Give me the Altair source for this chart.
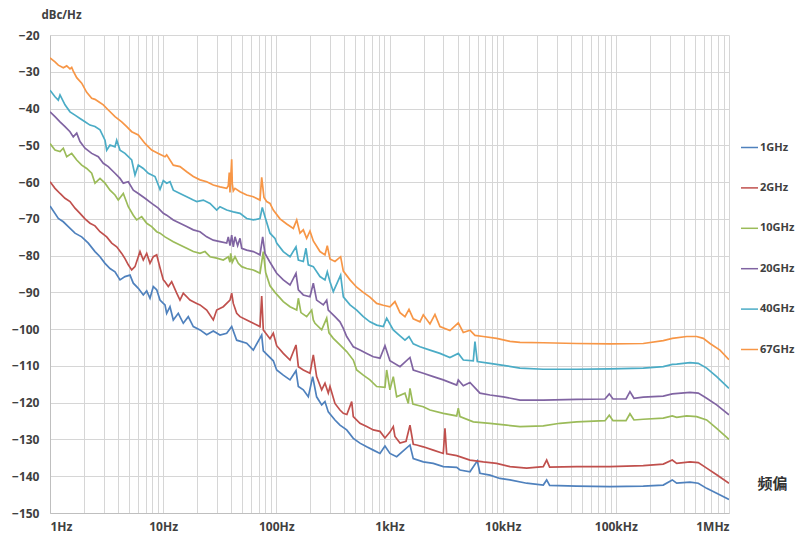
import altair as alt
import pandas as pd

SERIES = ["1GHz", "2GHz", "10GHz", "20GHz", "40GHz", "67GHz"]
COLORS = ["#4F81BD", "#C0504D", "#9BBB59", "#8064A2", "#4BACC6", "#F79646"]

# (offset frequency in Hz, phase noise in dBc/Hz)
S_1GHZ = [
    (1.0, -66.5), (1.184, -69.9), (1.311, -70.8), (1.451, -72.1), (1.663, -73.9), (1.906, -74.9),
    (2.18, -76.6), (2.498, -78.9), (2.766, -80.3), (3.062, -82.1), (3.39, -83.5), (3.752, -84.4),
    (4.155, -86.6), (4.599, -85.7), (5.092, -85.3), (5.445, -87.5), (6.029, -88.9), (6.674, -90.7),
    (7.152, -89.6), (7.649, -91.6), (8.181, -88.4), (8.767, -89.3), (9.376, -92.1), (10.03, -93.0),
    (10.38, -93.4), (10.74, -95.7), (11.49, -93.9), (12.29, -97.5), (13.6, -95.7), (15.06, -98.4),
    (16.67, -96.6), (18.46, -99.3), (21.16, -100.2), (24.25, -101.5), (27.73, -100.5), (31.78, -101.6),
    (36.42, -101.1), (40.32, -99.3), (44.64, -103.0), (54.70, -103.8), (62.57, -105.7), (74.24, -101.6),
    (76.69, -105.9), (94.0, -108.6), (100.7, -111.1), (115.2, -112.5), (132.1, -113.8), (149.2, -111.3),
    (156.5, -115.6), (173.1, -116.5), (191.6, -118.4), (209.5, -112.9), (227.0, -118.4), (251.6, -120.6),
    (269.0, -119.7), (287.7, -122.5), (329.6, -124.7), (365.0, -126.1), (418.5, -127.4), (478.6, -129.7),
    (548.0, -131.0), (628.6, -132.0), (719.3, -132.9), (824.0, -133.8), (912.0, -131.8), (1009, -133.8),
    (1157, -134.7), (1517, -131.5), (1622, -135.2), (1988, -136.1), (2437, -136.5), (2987, -137.4),
    (3925, -137.6), (4197, -138.3), (5140, -138.8), (5970, -135.8), (6300, -139.2), (7720, -139.7),
    (9460, -140.6), (11600, -141.0), (16290, -141.9), (22850, -142.4), (24480, -141.0), (26000, -142.5),
    (45060, -142.7), (88700, -142.8), (174700, -142.7), (262400, -142.4), (315200, -141.0),
    (345000, -141.9), (452000, -141.6), (535100, -141.9), (634900, -143.3), (778000, -144.6),
    (1000000, -146.3),
]

S_2GHZ = [
    (1.0, -59.9), (1.107, -61.7), (1.226, -63.1), (1.357, -64.4), (1.502, -65.3), (1.663, -67.1),
    (1.841, -68.5), (2.038, -70.0), (2.256, -71.2), (2.498, -71.9), (2.766, -73.5), (3.17, -74.9),
    (3.51, -76.6), (3.885, -77.6), (4.301, -79.4), (4.599, -80.8), (4.919, -82.5), (5.271, -83.9),
    (5.637, -83.0), (6.241, -78.9), (6.674, -81.2), (7.152, -79.4), (7.649, -82.1), (8.181, -80.3),
    (8.767, -79.8), (9.376, -83.3), (10.03, -86.6), (10.38, -87.1), (11.1, -88.4), (11.89, -87.1),
    (13.17, -90.2), (14.08, -92.1), (15.06, -90.2), (17.26, -92.1), (19.78, -93.0), (21.16, -93.4),
    (24.25, -94.8), (27.73, -97.5), (29.72, -94.8), (33.99, -93.9), (38.95, -92.1), (40.32, -90.2),
    (41.66, -93.0), (44.64, -95.7), (47.75, -96.6), (54.70, -97.5), (62.57, -98.4), (71.72, -99.3),
    (74.24, -91.0), (76.69, -100.2), (87.89, -102.6), (94.0, -101.1), (100.7, -104.5), (115.2, -106.6),
    (132.1, -108.4), (149.2, -104.3), (156.5, -110.2), (173.1, -111.1), (198.3, -112.0), (212.2, -107.0),
    (227.0, -112.9), (251.6, -116.5), (269.0, -114.7), (287.7, -117.4), (298.0, -115.6), (329.6, -120.2),
    (365.0, -122.0), (390.8, -122.9), (420.0, -123.2), (463.5, -119.7), (478.6, -123.8), (548.0, -125.6),
    (628.6, -126.5), (719.3, -127.4), (824.0, -127.8), (912.0, -129.6), (1009, -128.0), (1080, -126.5),
    (1117, -129.2), (1238, -131.0), (1400, -130.5), (1517, -126.1), (1622, -131.3), (1738, -131.5),
    (1988, -132.0), (2437, -132.9), (2987, -133.8), (3091, -127.0), (3200, -133.9), (3925, -134.4),
    (5140, -135.6), (6740, -136.1), (8850, -136.5), (11600, -137.4), (16290, -137.8), (22850, -137.4),
    (24480, -135.6), (26000, -137.5), (45060, -137.4), (88700, -137.4), (174700, -137.1),
    (262400, -136.7), (315200, -135.6), (345000, -136.5), (452000, -136.1), (535100, -136.3),
    (634900, -137.8), (778000, -139.6), (1000000, -141.9),
]

S_10GHZ = [
    (1.0, -49.5), (1.107, -51.3), (1.226, -51.7), (1.311, -50.8), (1.405, -53.1), (1.555, -52.2),
    (1.722, -54.0), (1.906, -55.4), (2.11, -56.3), (2.336, -57.6), (2.498, -60.3), (2.766, -59.0),
    (3.062, -60.3), (3.39, -62.2), (3.752, -63.5), (4.013, -64.9), (4.443, -63.1), (4.919, -66.7),
    (5.445, -69.0), (5.835, -70.3), (6.461, -69.4), (7.152, -71.2), (7.917, -72.1), (8.767, -73.5),
    (9.376, -73.9), (10.38, -74.9), (12.29, -76.2), (14.08, -77.1), (16.14, -78.0), (18.46, -78.9),
    (21.16, -79.4), (23.42, -78.9), (25.94, -80.3), (29.72, -80.7), (33.99, -81.2), (37.62, -80.3),
    (38.95, -81.8), (39.51, -79.4), (40.81, -81.8), (43.12, -80.3), (46.12, -82.1), (49.43, -83.0),
    (54.70, -83.5), (62.57, -83.9), (71.72, -84.8), (76.69, -78.9), (80.5, -84.6), (87.89, -88.2),
    (97.3, -90.0), (115.2, -92.5), (132.1, -93.9), (151.4, -94.8), (156.5, -91.6), (165.0, -95.5),
    (185.4, -96.6), (205.3, -94.8), (212.2, -97.5), (219.6, -98.4), (251.6, -100.2), (278.6, -97.0),
    (292.0, -101.0), (318.7, -102.5), (365.0, -104.3), (418.5, -106.1), (478.6, -108.4), (512.9, -111.1),
    (586.6, -112.5), (671.6, -113.8), (770.4, -115.6), (912.0, -115.8), (944.0, -111.1), (1009, -116.5),
    (1080, -112.9), (1157, -118.4), (1370, -117.4), (1466, -120.2), (1517, -116.1), (1610, -120.4),
    (1988, -121.1), (2278, -122.0), (2987, -122.9), (3925, -123.6), (4055, -121.5), (4197, -123.8),
    (5500, -125.2), (7720, -125.6), (10840, -126.1), (14220, -126.5), (22850, -126.3), (32080, -125.6),
    (45060, -125.2), (80200, -124.9), (87500, -123.4), (94400, -124.9), (123000, -124.9),
    (133300, -123.0), (144600, -124.7), (174700, -124.5), (262400, -124.2), (315200, -123.6),
    (345000, -124.0), (422700, -123.6), (517800, -123.8), (634900, -124.7), (778000, -127.0),
    (1000000, -130.0),
]

S_20GHZ = [
    (1.0, -40.9), (1.107, -42.2), (1.226, -43.6), (1.357, -44.9), (1.502, -46.3), (1.606, -47.7),
    (1.722, -46.7), (1.841, -49.0), (2.038, -50.8), (2.336, -52.2), (2.672, -53.1), (2.958, -54.9),
    (3.274, -55.8), (3.752, -57.6), (4.155, -59.0), (4.443, -60.3), (4.919, -59.9), (5.445, -62.2),
    (6.029, -63.1), (6.909, -64.4), (7.917, -65.8), (9.057, -67.1), (10.03, -68.5), (10.74, -69.0),
    (12.29, -70.3), (14.08, -71.2), (16.14, -72.1), (18.46, -73.0), (21.16, -73.5), (24.25, -74.9),
    (27.73, -75.8), (31.78, -76.2), (36.42, -76.6), (37.62, -74.9), (38.95, -77.3), (40.32, -74.4),
    (41.66, -77.6), (43.12, -74.9), (45.5, -77.3), (47.75, -75.3), (49.43, -78.0), (54.70, -78.5),
    (62.57, -78.9), (71.72, -79.8), (75.76, -74.9), (79.38, -79.4), (87.89, -81.8), (100.7, -84.8),
    (115.2, -86.6), (132.1, -88.0), (149.2, -84.8), (156.5, -89.3), (173.1, -90.7), (198.3, -91.2),
    (212.2, -87.5), (227.0, -92.1), (260.0, -93.4), (278.6, -92.1), (287.7, -94.8), (329.6, -96.6),
    (365.0, -98.0), (390.8, -99.8), (418.5, -102.0), (447.7, -103.4), (478.6, -104.8), (548.0, -105.7),
    (628.6, -106.6), (719.3, -107.5), (824.0, -107.9), (912.0, -104.5), (1009, -108.6), (1238, -110.2),
    (1517, -107.7), (1622, -111.1), (1988, -112.0), (2437, -112.9), (2987, -113.8), (3925, -115.2),
    (4055, -113.8), (4488, -115.4), (5140, -114.5), (6300, -117.4), (7720, -117.9), (10120, -118.4),
    (14220, -119.3), (22850, -119.3), (45060, -119.1), (80200, -119.0), (87500, -117.6),
    (94400, -119.0), (123000, -119.0), (133300, -117.0), (144600, -118.8), (174700, -118.5),
    (262400, -118.2), (315200, -117.6), (452000, -117.2), (535100, -117.4), (634900, -118.8),
    (778000, -120.6), (1000000, -123.3),
]

S_40GHZ = [
    (1.0, -35.0), (1.107, -36.8), (1.184, -37.7), (1.226, -36.3), (1.357, -39.0), (1.502, -40.9),
    (1.663, -41.8), (1.841, -42.7), (2.038, -43.6), (2.256, -44.5), (2.498, -44.9), (2.766, -45.8),
    (3.062, -48.6), (3.17, -51.3), (3.39, -49.9), (3.752, -50.4), (3.885, -48.6), (4.155, -51.3),
    (4.599, -52.2), (5.271, -54.0), (5.637, -58.1), (6.029, -55.4), (6.674, -56.3), (7.389, -57.6),
    (8.469, -58.5), (9.376, -62.0), (10.03, -59.6), (10.74, -60.3), (11.49, -59.9), (12.29, -62.2),
    (14.08, -63.1), (16.14, -64.0), (18.46, -64.9), (19.78, -65.3), (22.62, -64.9), (25.94, -65.8),
    (29.72, -67.6), (31.78, -66.7), (36.42, -67.6), (41.66, -68.1), (47.75, -68.5), (54.70, -69.9),
    (62.57, -70.3), (71.72, -69.9), (75.15, -66.9), (79.38, -69.4), (87.89, -73.9), (97.3, -75.3),
    (100.7, -76.6), (115.2, -78.9), (132.1, -80.3), (149.2, -77.6), (156.5, -81.2), (173.1, -81.6),
    (182.9, -78.0), (191.6, -82.5), (212.2, -83.0), (243.0, -85.7), (269.0, -86.6), (282.0, -84.4),
    (298.0, -87.1), (318.7, -89.8), (370.0, -85.3), (390.8, -91.2), (447.7, -93.4), (512.9, -94.8),
    (586.6, -96.6), (671.6, -98.0), (770.4, -98.9), (881.0, -99.3), (944.0, -97.0), (1080, -100.2),
    (1238, -101.8), (1370, -103.0), (1487, -102.0), (1622, -104.0), (1859, -104.8), (2278, -105.7),
    (2792, -106.6), (3420, -107.7), (4055, -106.6), (4488, -108.4), (5500, -108.6), (5690, -103.4),
    (5970, -108.8), (7720, -109.3), (9460, -109.7), (14220, -110.6), (22850, -110.9), (45060, -110.9),
    (88700, -110.8), (174700, -110.6), (262400, -110.2), (315200, -109.6), (345000, -109.5),
    (452000, -109.1), (535100, -109.3), (634900, -110.6), (778000, -112.9), (1000000, -116.1),
]

S_67GHZ = [
    (1.0, -26.2), (1.107, -27.3), (1.184, -28.2), (1.311, -28.9), (1.405, -28.4), (1.502, -29.2),
    (1.555, -28.8), (1.606, -29.8), (1.722, -31.6), (1.906, -33.1), (2.11, -35.6), (2.336, -37.2),
    (2.498, -37.5), (2.672, -38.1), (2.958, -39.0), (3.274, -40.4), (3.752, -42.2), (4.301, -43.6),
    (4.762, -44.9), (5.271, -46.3), (6.029, -47.2), (6.909, -49.5), (7.917, -51.3), (9.057, -52.2),
    (10.38, -53.1), (10.74, -52.6), (12.29, -55.4), (14.08, -55.8), (16.14, -57.2), (18.46, -58.5),
    (21.16, -59.4), (24.25, -59.9), (27.73, -60.8), (31.78, -61.3), (36.42, -61.7), (37.62, -61.0),
    (38.39, -57.4), (38.95, -62.8), (40.32, -53.8), (40.81, -60.5), (41.66, -62.4), (43.12, -61.7),
    (47.75, -62.6), (54.70, -63.5), (62.57, -64.0), (71.72, -64.9), (74.24, -58.7), (77.79, -64.2),
    (82.18, -65.3), (87.89, -65.8), (94.0, -67.6), (107.7, -70.0), (123.5, -71.4), (141.3, -72.6),
    (151.4, -70.3), (161.8, -73.9), (173.1, -73.0), (185.4, -75.3), (198.3, -73.3), (212.2, -76.0),
    (243.0, -78.9), (269.0, -79.8), (282.0, -77.3), (298.0, -80.9), (329.6, -81.6), (370.0, -80.3),
    (390.8, -84.2), (447.7, -86.6), (512.9, -88.6), (586.6, -90.0), (671.6, -91.3), (770.4, -93.0),
    (881.0, -93.5), (1009, -93.9), (1117, -92.5), (1238, -95.5), (1370, -96.6), (1487, -94.6),
    (1622, -97.2), (1859, -98.0), (1988, -96.1), (2278, -98.6), (2522, -96.0), (2792, -99.3),
    (3420, -100.4), (4055, -98.3), (4488, -100.9), (5140, -100.3), (5690, -101.7), (6740, -102.0),
    (8850, -102.5), (11600, -103.3), (14220, -103.6), (22850, -103.7), (45060, -103.9),
    (88700, -104.0), (174700, -103.9), (262400, -103.1), (315200, -102.5), (422700, -102.0),
    (517800, -102.0), (592400, -102.5), (679200, -103.9), (832000, -105.7), (1000000, -108.3),
]

DECADES = [1, 10, 100, 1000, 10000, 100000, 1000000]
DECADE_LABELS = ["1Hz", "10Hz", "100Hz", "1kHz", "10kHz", "100kHz", "1MHz"]
Y_TICKS = list(range(-150, -10, 10))

rows = []
for name, pts in zip(SERIES, [S_1GHZ, S_2GHZ, S_10GHZ, S_20GHZ, S_40GHZ, S_67GHZ]):
    for f, d in pts:
        rows.append({"series": name, "freq": f, "db": d})
df = pd.DataFrame(rows)

x_grid = [m * d for d in DECADES[:-1] for m in range(1, 10)] + [DECADES[-1]]
label_expr = " : ".join(
    f"datum.value == {v} ? '{lab}'" for v, lab in zip(DECADES, DECADE_LABELS)
) + " : ''"

FONT = "Noto Sans"
TXT = "#404040"

chart = (
    alt.Chart(df)
    .mark_line(strokeWidth=1.7, clip=True)
    .encode(
        x=alt.X(
            "freq:Q",
            scale=alt.Scale(type="log", domain=[1, 1000000], nice=False),
            axis=alt.Axis(
                values=x_grid,
                labelExpr=label_expr,
                labelOverlap=False,
                ticks=False,
                labelPadding=8,
                labelFont=FONT,
                labelFontSize=12,
                labelFontWeight="bold",
                labelColor=TXT,
                title="频偏",
                titleFont="Noto Sans CJK SC",
                titleFontSize=15,
                titleFontWeight="bold",
                titleColor="#333333",
                titleAngle=0,
                titleAlign="left",
                titleBaseline="middle",
                titleX=707,
                titleY=-30,
            ),
        ),
        y=alt.Y(
            "db:Q",
            scale=alt.Scale(domain=[-150, -20], nice=False, zero=False),
            axis=alt.Axis(
                values=Y_TICKS,
                ticks=False,
                labelPadding=11,
                labelFont=FONT,
                labelFontSize=12,
                labelFontWeight="bold",
                labelColor=TXT,
                title="dBc/Hz",
                titleFont=FONT,
                titleFontSize=11.5,
                titleFontWeight="bold",
                titleColor=TXT,
                titleAngle=0,
                titleAlign="left",
                titleBaseline="middle",
                titleX=-9,
                titleY=-20,
            ),
        ),
        color=alt.Color(
            "series:N",
            sort=SERIES,
            scale=alt.Scale(domain=SERIES, range=COLORS),
            legend=alt.Legend(
                orient="none",
                legendX=690,
                legendY=103,
                title=None,
                symbolType="stroke",
                symbolSize=290,
                symbolStrokeWidth=1.5,
                rowPadding=25.4,
                labelFont=FONT,
                labelFontSize=11,
                labelFontWeight="bold",
                labelColor=TXT,
                labelOffset=1,
            ),
        ),
    )
    .properties(
        width=679,
        height=478,
        autosize=alt.AutoSizeParams(type="none"),
        padding={"left": 42, "top": 27, "right": 68, "bottom": 22},
        background="white",
    )
    .configure_view(stroke=None)
    .configure_axis(
        gridColor="#d6d6d6",
        gridWidth=1,
        domainColor="#bfbfbf",
        domainWidth=1,
    )
)

chart.save("out.html", embed_options={"renderer": "svg", "actions": False})
